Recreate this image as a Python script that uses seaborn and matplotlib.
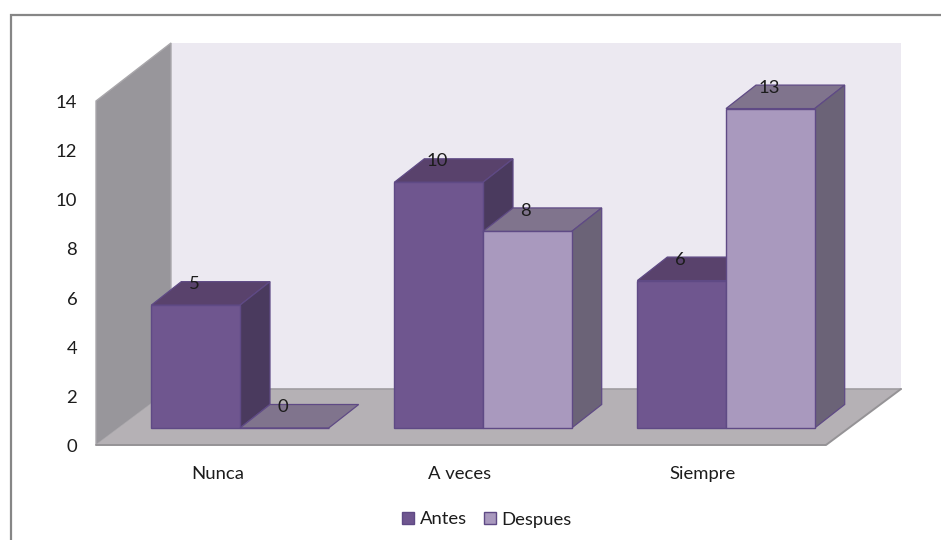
import matplotlib
matplotlib.use('Agg')
import matplotlib.pyplot as plt
from matplotlib.patches import Polygon, Rectangle
import pandas as pd
import seaborn as sns

categories = ['Nunca', 'A veces', 'Siempre']
antes = [5, 10, 6]
despues = [0, 8, 13]
series_names = ['Antes', 'Despues']
y_ticks = [0, 2, 4, 6, 8, 10, 12, 14]

W, H = 941, 540
UNIT = 24.57      # pixels per value
CAT = 243.0       # pixels per category

# colours: front, top, side
colors = {
    'Antes': ('#6f568f', '#59426c', '#4a3a5e'),
    'Despues': ('#a999be', '#80748d', '#6b6377'),
}
edge = '#5f4a85'

sns.set_style('white')
plt.rcParams['font.family'] = ['Lato', 'DejaVu Sans']
plt.rcParams['font.size'] = 13.3
text_color = '#1c1c1c'

fig = plt.figure(figsize=(W / 100, H / 100), dpi=100, facecolor='white')


def px_axes(x0, x1, y_top, y_bottom):
    return fig.add_axes([x0 / W, 1 - y_bottom / H, (x1 - x0) / W, (y_bottom - y_top) / H])


# background in pixel coordinates: frame, walls, floor
bg = px_axes(0, W, 0, H)
bg.set_xlim(0, W)
bg.set_ylim(H, 0)
bg.axis('off')
bg.plot([11, 11, W], [H, 15, 15], color='#868686', lw=1.6, solid_joinstyle='miter')
bg.add_patch(Rectangle((171, 43), 730, 346, fc='#ece9f1', ec='none'))
bg.add_patch(Polygon([(96, 101), (171, 43), (171, 389), (96, 445)], fc='#98969b', ec='#a9a7ab', lw=1))
bg.add_patch(Polygon([(96, 445), (171, 389), (901, 389), (826, 445)], fc='#b5b1b5', ec='none'))
bg.plot([171, 901], [389, 389], color='#a09da1', lw=1.2)
bg.plot([96, 826, 901], [445, 445, 389], color='#959396', lw=1.4)

# front plane axes: carries the tick labels
front = px_axes(96, 824, 101, 446)
front.patch.set_alpha(0)
front.set_xlim(-0.5, 2.5)
front.set_ylim(0, 14)
front.set_xticks(range(len(categories)))
front.set_xticklabels(categories, color=text_color)
front.set_yticks(y_ticks)
front.set_yticklabels(y_ticks, color=text_color)
front.tick_params(axis='x', length=0, pad=14.5)
front.tick_params(axis='y', length=0, pad=13.5)
sns.despine(ax=front, left=True, bottom=True)

# bars sit on a plane pushed back into the depth of the chart
ax = px_axes(118.5, 118.5 + 3 * CAT, 428 - 14 * UNIT, 428)
ax.patch.set_alpha(0)

df = pd.DataFrame({
    'Opcion': categories * 2,
    'Valor': antes + despues,
    'Serie': [series_names[0]] * 3 + [series_names[1]] * 3,
})
sns.barplot(data=df, x='Opcion', y='Valor', hue='Serie', hue_order=series_names,
            palette=[colors[s][0] for s in series_names], saturation=1,
            width=0.73, gap=0, edgecolor=edge, linewidth=1.0, legend=False, ax=ax)
ax.set_xlim(-0.5, 2.5)
ax.set_ylim(0, 14)
ax.axis('off')

dx = 30 / CAT
dy = 23.5 / UNIT
for i, (name, container) in enumerate(zip(series_names, ax.containers)):
    front_c, top_c, side_c = colors[name]
    for bar in container:
        x0 = bar.get_x()
        x1 = x0 + bar.get_width()
        v = bar.get_height()
        bar.set_zorder(3 + 2 * i)
        bar.set_clip_on(False)
        ax.add_patch(Polygon([(x0, v), (x0 + dx, v + dy), (x1 + dx, v + dy), (x1, v)],
                             fc=top_c, ec=edge, lw=0.9, zorder=2 + 2 * i, clip_on=False))
        if v > 0:
            ax.add_patch(Polygon([(x1, 0), (x1 + dx, dy), (x1 + dx, v + dy), (x1, v)],
                                 fc=side_c, ec=edge, lw=0.9, zorder=2 + 2 * i, clip_on=False))
        ax.annotate(f'{v:.0f}', ((x0 + x1) / 2, v), xytext=(-1, 15), textcoords='offset points',
                    ha='center', va='center', color=text_color, zorder=10, annotation_clip=False)

handles = [Rectangle((0, 0), 1, 1, fc=colors[s][0], ec=edge, lw=1) for s in series_names]
fig.legend(handles, series_names, loc='center', bbox_to_anchor=(487 / W, 1 - 519.5 / H), ncol=2,
           frameon=False, handlelength=0.65, handleheight=0.65, handletextpad=0.3,
           columnspacing=0.9, labelcolor=text_color)

fig.savefig('out.png', dpi=100)
